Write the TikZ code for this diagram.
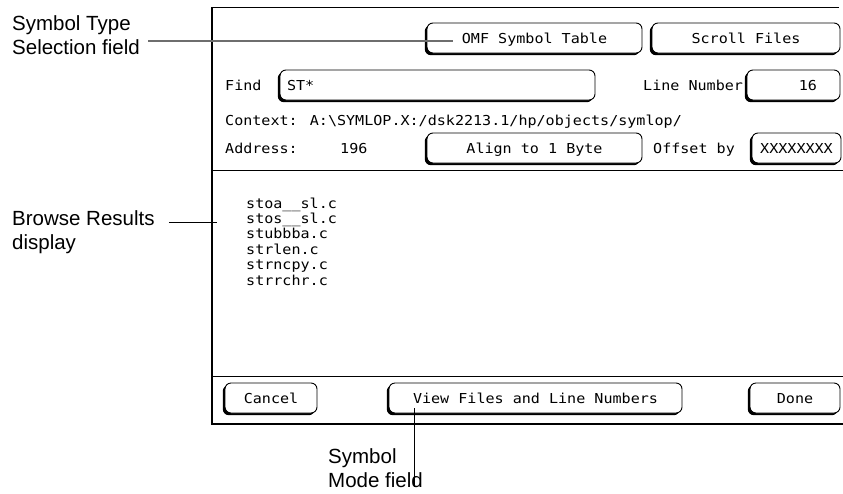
\documentclass[tikz,border=0pt]{standalone}
\usepackage{fontspec}
\setmainfont{Liberation Sans}
\newfontfamily\scrfont[FakeStretch=1.1]{DejaVu Sans Mono}
\usetikzlibrary{shadows}
\definecolor{leadgray}{RGB}{110,110,110}
\tikzset{
    frame/.style={black,line width=1.2pt},
    sepline/.style={black,line width=0.9pt},
    scr/.style={font=\scrfont\fontsize{13.7}{15.4}\selectfont,inner sep=0pt},
    button/.style={scr,draw,line width=0.9pt,fill=white,rounded corners=6pt,
        minimum height=30pt,text height=10pt,text depth=0pt,
        drop shadow={shadow xshift=-2.2pt,shadow yshift=-2.2pt,fill=black,opacity=1}},
    lbl/.style={font=\fontsize{20.5}{23.5}\selectfont,align=left,inner sep=0pt,anchor=north west},
    callout/.style={black,line width=0.8pt},
    graycallout/.style={leadgray,line width=1.8pt}
}

\begin{document}
\begin{tikzpicture}[x=1pt,y=-1pt]
\useasboundingbox (0,0) rectangle (843,493);
% screen frame
\draw[frame](839,7.5)--(212,7.5)--(212,424)--(843,424);
\draw[sepline](212,170)--(843,170);
\draw[sepline](212,376)--(843,376);
% top rows
\node[button,minimum width=215pt](omf)at(534.5,38){OMF Symbol Table};
\node[button,minimum width=188pt](scroll)at(746,38){Scroll Files};
\node[scr,anchor=base west](findtxt)at(225,90){Find};
\node[button,text width=301pt,inner xsep=7pt,align=left](find)at(437.5,85){ST*};
\node[scr,anchor=base west](linetxt)at(643,90){Line Number};
\node[button,text width=47pt,inner xsep=23pt,align=right](line)at(793.5,85){16};
\node[scr,anchor=base west](context)at(225,125){Context: A:\textbackslash SYMLOP.X:/dsk2213.1/hp/objects/symlop/};
\node[scr,anchor=base west](addr)at(225,153){Address:};
\node[scr,anchor=base west](addrval)at(340,153){196};
\node[button,minimum width=215pt](align)at(534.5,148){Align to 1 Byte};
\node[scr,anchor=base west](offtxt)at(653,153){Offset by};
\node[button,minimum width=89pt](offset)at(796.5,148){XXXXXXXX};
% browse results
\foreach \f [count=\i] in {stoa\_\_sl.c,stos\_\_sl.c,stubbba.c,strlen.c,strncpy.c,strrchr.c}
    \node[scr,anchor=base west](file\i)at(246,{192.6+15.4*\i}){\f};
% bottom row
\node[button,minimum width=92pt](cancel)at(271,398){Cancel};
\node[button,minimum width=293pt](view)at(535.5,398){View Files and Line Numbers};
\node[button,minimum width=90pt](done)at(795,398){Done};
% callouts
\node[lbl](typelbl)at(12,15.5){Symbol Type\\Selection field};
\node[lbl](browselbl)at(12,210.5){Browse Results\\display};
\node[lbl](modelbl)at(328,448.5){Symbol\\Mode field};
\coordinate(typetip)at(453,41);
\coordinate(browsetip)at(217,222);
\coordinate(modetip)at(414,408);
\draw[graycallout](typelbl.east|-typetip)++(8,0)--(typetip);
\draw[callout](browselbl.east|-browsetip)++(14,0)--(browsetip);
\draw[callout](modetip)--(modetip|-modelbl.south);
\end{tikzpicture}
\end{document}
